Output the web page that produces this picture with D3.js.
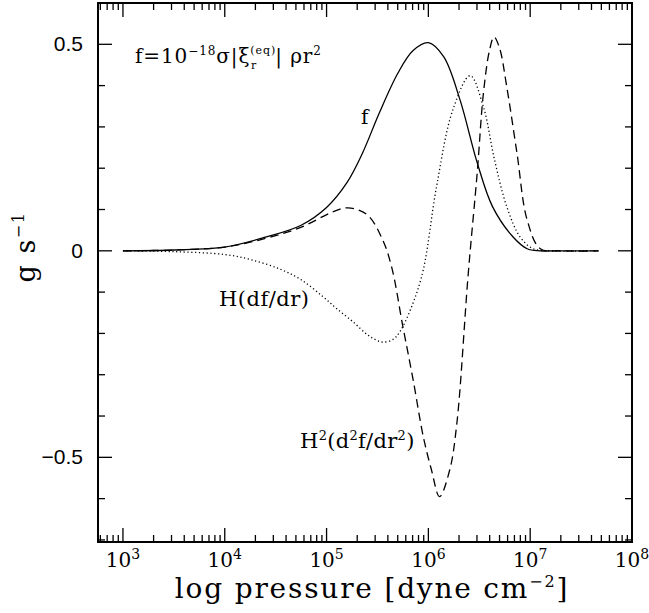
<!DOCTYPE html>
<html><head><meta charset="utf-8">
<script src="https://cdn.jsdelivr.net/npm/d3@7"></script>
<style>body{margin:0;background:#fff}</style>
</head><body>
<svg id="c" width="649" height="613"></svg>
<script>
// ---- data ----
const fLogP = [3.0, 3.5, 4.0, 4.4, 4.75, 5.0, 5.2, 5.35, 5.52, 5.7, 5.85, 6.0, 6.15, 6.31, 6.48, 6.63, 6.83, 6.97, 7.1, 7.3, 7.67];
const fVal  = [0.0, 0.002, 0.009, 0.033, 0.062, 0.105, 0.165, 0.235, 0.335, 0.43, 0.485, 0.504, 0.47, 0.366, 0.213, 0.107, 0.034, 0.005, 0.0, 0.0, 0.0];

const d1LogP = [3.0, 3.5, 4.0, 4.25, 4.54, 4.75, 4.96, 5.1, 5.26, 5.4, 5.48, 5.55, 5.65, 5.72, 5.85, 5.95, 6.08, 6.24, 6.41, 6.54, 6.65, 6.77, 6.9, 7.03, 7.2, 7.67];
const d1Val  = [0.0, -0.002, -0.009, -0.021, -0.044, -0.07, -0.11, -0.14, -0.172, -0.203, -0.215, -0.221, -0.215, -0.196, -0.126, -0.046, 0.155, 0.341, 0.424, 0.349, 0.22, 0.107, 0.034, 0.005, 0.0, 0.0];

const d2LogP = [3.0, 3.5, 4.0, 4.4, 4.74, 5.06, 5.21, 5.4, 5.55, 5.64, 5.75, 5.85, 5.95, 6.03, 6.11, 6.21, 6.28, 6.39, 6.48, 6.54, 6.6, 6.645, 6.7, 6.77, 6.87, 6.97, 7.1, 7.3, 7.67];
const d2Val  = [0.0, 0.002, 0.009, 0.03, 0.056, 0.094, 0.104, 0.087, 0.027, -0.04, -0.184, -0.312, -0.45, -0.53, -0.595, -0.53, -0.417, -0.06, 0.19, 0.38, 0.485, 0.518, 0.49, 0.397, 0.237, 0.075, 0.005, 0.0, 0.0];

const xDecades = [3, 4, 5, 6, 7, 8];
const yMajor = [-0.5, 0, 0.5];
const yMajorLabels = ["\u22120.5", "0", "0.5"];

// ---- layout ----
const svg = d3.select("#c");
const L = 98, R = 632, T = 3, B = 542;
const x = d3.scaleLog().domain([Math.pow(10, 2.755), 1e8]).range([L, R]);
const y = d3.scaleLinear().domain([-0.705, 0.6]).range([B, T]);

// curves
const line = d3.line().x(d => x(Math.pow(10, d[0]))).y(d => y(d[1])).curve(d3.curveCatmullRom.alpha(0.5));
function draw(lp, v, dash) {
  svg.append("path").datum(lp.map((p, i) => [p, v[i]]))
    .attr("d", line).attr("fill", "none").attr("stroke", "#000")
    .attr("stroke-width", 1.3).attr("stroke-dasharray", dash);
}
draw(fLogP, fVal, null);
draw(d1LogP, d1Val, "1.2,2.6");
draw(d2LogP, d2Val, "8.5,5");

// frame
svg.append("rect").attr("x", L).attr("y", T).attr("width", R - L).attr("height", B - T)
  .attr("fill", "none").attr("stroke", "#000").attr("stroke-width", 2);

// x ticks
const xMinor = [];
for (let e = 2; e < 8; e++) for (let k = 2; k <= 9; k++) { const v = k * Math.pow(10, e); if (v > x.domain()[0]) xMinor.push(v); }
const xMajorVals = xDecades.map(e => Math.pow(10, e));
const tg = svg.append("g").attr("stroke", "#000").attr("stroke-width", 1.3);
xMinor.forEach(v => {
  tg.append("line").attr("x1", x(v)).attr("x2", x(v)).attr("y1", B).attr("y2", B - 7);
  tg.append("line").attr("x1", x(v)).attr("x2", x(v)).attr("y1", T).attr("y2", T + 7);
});
xMajorVals.forEach(v => {
  tg.append("line").attr("x1", x(v)).attr("x2", x(v)).attr("y1", B).attr("y2", B - 14);
  tg.append("line").attr("x1", x(v)).attr("x2", x(v)).attr("y1", T).attr("y2", T + 14);
});
// y ticks
const yMinor = d3.range(-7, 7).map(i => i / 10).filter(v => v > -0.705 && v < 0.6 && Math.abs(v * 2 - Math.round(v * 2)) > 1e-6);
yMinor.forEach(v => {
  tg.append("line").attr("x1", L).attr("x2", L + 7).attr("y1", y(v)).attr("y2", y(v));
  tg.append("line").attr("x1", R).attr("x2", R - 7).attr("y1", y(v)).attr("y2", y(v));
});
yMajor.forEach(v => {
  tg.append("line").attr("x1", L).attr("x2", L + 14).attr("y1", y(v)).attr("y2", y(v));
  tg.append("line").attr("x1", R).attr("x2", R - 14).attr("y1", y(v)).attr("y2", y(v));
});

// x tick labels
xDecades.forEach(e => {
  const t = svg.append("text").attr("x", x(Math.pow(10, e))).attr("y", 567)
    .attr("text-anchor", "middle").attr("font-family", "DejaVu Serif").attr("font-size", 20);
  t.append("tspan").text("10");
  t.append("tspan").attr("dy", -8).attr("font-size", 14).text(String(e));
});
// y tick labels
yMajor.forEach((v, i) => {
  svg.append("text").attr("x", 83).attr("y", y(v) + 7).attr("text-anchor", "end")
    .attr("font-family", "Liberation Sans").attr("font-size", 21).text(yMajorLabels[i]);
});

// axis titles
const xt = svg.append("text").attr("x", 372).attr("y", 598).attr("text-anchor", "middle")
  .attr("font-family", "DejaVu Serif").attr("font-size", 28).attr("letter-spacing", 1.8);
xt.append("tspan").text("log pressure [dyne cm");
xt.append("tspan").attr("dy", -11).attr("font-size", 16).text("\u22122");
xt.append("tspan").attr("dy", 11).text("]");

const yt = svg.append("text").attr("transform", "translate(35,247) rotate(-90)").attr("text-anchor", "middle")
  .attr("font-family", "DejaVu Serif").attr("font-size", 27).attr("letter-spacing", 1.5);
yt.append("tspan").text("g s");
yt.append("tspan").attr("dy", -11).attr("font-size", 16).text("\u22121");

// annotations
const ann = svg.append("text").attr("x", 135).attr("y", 63).attr("font-family", "DejaVu Serif").attr("font-size", 20).attr("letter-spacing", 0.9);
ann.append("tspan").text("f=10");
ann.append("tspan").attr("dy", -8).attr("font-size", 12).text("\u221218");
ann.append("tspan").attr("dy", 8).text("\u03c3|\u03be");
ann.append("tspan").attr("dy", -9).attr("font-size", 11).text("(eq)");
ann.append("tspan").attr("dx", -25).attr("dy", 15).attr("font-size", 11).text("r");
ann.append("tspan").attr("dx", 18).attr("dy", -6).text("|  \u03c1r");
ann.append("tspan").attr("dy", -8).attr("font-size", 12).text("2");

svg.append("text").attr("x", 361).attr("y", 124).attr("font-family", "DejaVu Serif").attr("font-size", 20).text("f");
svg.append("text").attr("x", 219).attr("y", 306).attr("font-family", "DejaVu Serif").attr("font-size", 21).attr("letter-spacing", 0.5).text("H(df/dr)");
const h2 = svg.append("text").attr("x", 300).attr("y", 448).attr("font-family", "DejaVu Serif").attr("font-size", 21).attr("letter-spacing", 0.3);
h2.append("tspan").text("H");
h2.append("tspan").attr("dy", -8).attr("font-size", 13).text("2");
h2.append("tspan").attr("dy", 8).text("(d");
h2.append("tspan").attr("dy", -8).attr("font-size", 13).text("2");
h2.append("tspan").attr("dy", 8).text("f/dr");
h2.append("tspan").attr("dy", -8).attr("font-size", 13).text("2");
h2.append("tspan").attr("dy", 8).text(")");
</script>
</body></html>
